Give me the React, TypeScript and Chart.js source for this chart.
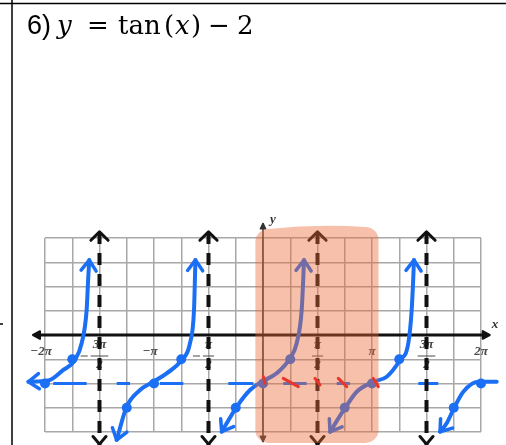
import { useEffect, useRef } from 'react';
import { Chart, registerables } from 'chart.js';

Chart.register(...registerables);

const WIDTH = 506;
const HEIGHT = 445;

type Pt = [number, number];

// Horizontal values are in multiples of π, vertical values in plain units.
const xGrid = [-2, -1.75, -1.5, -1.25, -1, -0.75, -0.5, -0.25, 0, 0.25, 0.5, 0.75, 1, 1.25, 1.5, 1.75, 2];
const yGrid = [-4, -3, -2, -1, 0, 1, 2, 3, 4];

const xTickLabels = [
  { value: -2, text: '−2π' },
  { value: -1.5, num: '3π', den: '2', negative: true },
  { value: -1, text: '−π' },
  { value: -0.5, num: 'π', den: '2', negative: true },
  { value: 0.5, num: 'π', den: '2' },
  { value: 1, text: 'π' },
  { value: 1.5, num: '3π', den: '2' },
  { value: 2, text: '2π' },
];

// Hand-sketched branches of y = tan(x) − 2
const branchA: Pt[] = [[-2.153, -1.93], [-1.97, -1.88], [-1.832, -1.44], [-1.725, -1.03], [-1.664, -0.34], [-1.618, 1.03], [-1.603, 2.4], [-1.594, 3.09]];
const branchB: Pt[] = [[-1.343, -4.33], [-1.251, -2.96], [-1.128, -2.27], [-1.006, -1.93], [-0.884, -1.58], [-0.746, -1.03], [-0.67, -0.34], [-0.633, 1.03], [-0.624, 2.4], [-0.62, 3.09]];
const branchC: Pt[] = [[-0.379, -3.99], [-0.241, -2.96], [-0.119, -2.27], [-0.012, -1.93], [0.125, -1.58], [0.248, -0.96], [0.309, -0.34], [0.355, 1.03], [0.37, 2.4], [0.376, 3.09]];
const branchD: Pt[] = [[0.615, -3.99], [0.752, -3.02], [0.86, -2.34], [1.012, -1.93], [1.135, -1.72], [1.257, -1.03], [1.333, -0.34], [1.364, 1.03], [1.379, 2.4], [1.385, 3.09]];
const branchE: Pt[] = [[1.624, -3.99], [1.685, -3.64], [1.752, -3.02], [1.838, -2.34], [1.975, -1.93], [2.144, -1.93]];

// Key points: (kπ, −2), (kπ ± π/4, −2 ± 1)
const keyPoints: Pt[] = [[-2, -2], [-1.75, -1], [-1.25, -3], [-1, -2], [-0.75, -1], [-0.25, -3], [0, -2], [0.25, -1], [0.75, -3], [1, -2], [1.25, -1], [1.75, -3], [2, -2]];

// Dashed midline y = −2, drawn as separate strokes
const MIDLINE = -2;
const midlineDashes: Pt[] = [[-1.924, -1.618], [-1.342, -1.22], [-0.945, -0.731], [-0.318, -0.089], [0.186, 0.401], [0.676, 0.798], [1.425, 1.608]];

// Red tick strokes across the midline within one period
const redMarks: Pt[][] = [
  [[0.003, -1.72], [0.018, -1.99]],
  [[0.186, -1.79], [0.324, -2.13]],
  [[0.477, -1.79], [0.523, -2.06]],
  [[0.691, -1.79], [0.768, -2.13]],
  [[1.012, -1.79], [1.058, -2.13]],
];

// Vertical asymptotes x = ±π/2, ±3π/2
const asymptoteXs = [-1.5, -0.5, 0.5, 1.5];
const ASYM_TOP = 4.25;
const ASYM_BOTTOM = -4.65;
const ASYM_ARROW_BOTTOM = -4.5;

const xAxisSpan: Pt = [-2.11, 2.08];
const yAxisSpan: Pt = [-4.4, 4.6];

// One highlighted period
const highlight = { x0: -0.07, x1: 1.06, y0: -4.45, y1: 4.5 };

const BLUE = '#1a6ff5';
const RED = '#e8362a';
const INK = '#111111';
const HIGHLIGHT = 'rgba(233,105,55,0.42)';

const toXY = (pts: Pt[]) => pts.map(([x, y]) => ({ x, y }));
const gapped = (segs: Pt[][]) =>
  segs.flatMap((s) => [...toXY(s), { x: s[s.length - 1][0], y: null as any }]);

const branches = [
  { label: 'branchA', points: branchA, start: true, end: true },
  { label: 'branchB', points: branchB, start: true, end: true },
  { label: 'branchC', points: branchC, start: true, end: true },
  { label: 'branchD', points: branchD, start: true, end: true },
  { label: 'branchE', points: branchE, start: true, end: false },
];

function arrowHead(
  ctx: CanvasRenderingContext2D,
  tipX: number, tipY: number, fromX: number, fromY: number,
  len: number, spread: number, color: string, width: number, filled = false
) {
  const ang = Math.atan2(tipY - fromY, tipX - fromX);
  const a1 = ang + Math.PI - spread;
  const a2 = ang + Math.PI + spread;
  ctx.save();
  ctx.strokeStyle = color;
  ctx.fillStyle = color;
  ctx.lineWidth = width;
  ctx.lineCap = 'round';
  ctx.lineJoin = 'round';
  ctx.beginPath();
  ctx.moveTo(tipX + len * Math.cos(a1), tipY + len * Math.sin(a1));
  ctx.lineTo(tipX, tipY);
  ctx.lineTo(tipX + len * Math.cos(a2), tipY + len * Math.sin(a2));
  if (filled) {
    ctx.closePath();
    ctx.fill();
  }
  ctx.stroke();
  ctx.restore();
}

const sketchPlugin = {
  id: 'sketch',
  beforeDraw(chart: any) {
    const { ctx } = chart;
    ctx.save();
    ctx.fillStyle = '#ffffff';
    ctx.fillRect(0, 0, chart.width, chart.height);
    // worksheet cell borders
    ctx.strokeStyle = '#000';
    ctx.lineWidth = 1.5;
    ctx.beginPath();
    ctx.moveTo(0, 3.5);
    ctx.lineTo(chart.width, 3.5);
    ctx.moveTo(12, 0);
    ctx.lineTo(12, chart.height);
    ctx.moveTo(0, 324);
    ctx.lineTo(3, 324);
    ctx.stroke();
    ctx.restore();
  },
  beforeDatasetsDraw(chart: any) {
    const { ctx } = chart;
    const xs = chart.scales.x;
    const ys = chart.scales.y;
    const y0 = ys.getPixelForValue(0);

    // tick labels
    ctx.save();
    ctx.fillStyle = '#4a4a4a';
    ctx.strokeStyle = '#4a4a4a';
    ctx.font = 'italic bold 13px "Liberation Serif"';
    ctx.textAlign = 'center';
    ctx.textBaseline = 'middle';
    for (const t of xTickLabels) {
      const px = xs.getPixelForValue(t.value);
      if (t.text) {
        const shift = t.text.startsWith('−') ? -4 : 0;
        ctx.fillText(t.text, px + shift, y0 + 17);
      } else {
        const w = Math.max(ctx.measureText(t.num!).width, ctx.measureText(t.den!).width) + 4;
        ctx.fillText(t.num!, px, y0 + 10);
        ctx.fillText(t.den!, px, y0 + 30);
        ctx.lineWidth = 1;
        ctx.beginPath();
        ctx.moveTo(px - w / 2, y0 + 21);
        ctx.lineTo(px + w / 2, y0 + 21);
        ctx.stroke();
        if (t.negative) {
          ctx.beginPath();
          ctx.moveTo(px - w / 2 - 10, y0 + 21);
          ctx.lineTo(px - w / 2 - 3, y0 + 21);
          ctx.stroke();
        }
      }
    }
    ctx.restore();

    // y axis
    const yx = xs.getPixelForValue(0);
    const yTop = ys.getPixelForValue(yAxisSpan[1]);
    const yBot = ys.getPixelForValue(yAxisSpan[0]);
    ctx.save();
    ctx.strokeStyle = '#333';
    ctx.lineWidth = 1.5;
    ctx.beginPath();
    ctx.moveTo(yx, yTop);
    ctx.lineTo(yx, yBot);
    ctx.stroke();
    ctx.restore();
    arrowHead(ctx, yx, yTop, yx, yTop + 10, 6, 0.45, '#333', 1.5, true);
    arrowHead(ctx, yx, yBot, yx, yBot - 10, 6, 0.45, '#333', 1.5, true);

    // x axis
    const xl = xs.getPixelForValue(xAxisSpan[0]);
    const xr = xs.getPixelForValue(xAxisSpan[1]);
    ctx.save();
    ctx.strokeStyle = INK;
    ctx.lineWidth = 3;
    ctx.beginPath();
    ctx.moveTo(xl + 2, y0);
    ctx.lineTo(xr - 2, y0);
    ctx.stroke();
    ctx.restore();
    arrowHead(ctx, xl, y0, xl + 10, y0, 8, 0.5, INK, 2, true);
    arrowHead(ctx, xr, y0, xr - 10, y0, 8, 0.5, INK, 2, true);

    ctx.save();
    ctx.fillStyle = '#333';
    ctx.font = 'italic bold 13px "Liberation Serif"';
    ctx.textAlign = 'left';
    ctx.textBaseline = 'middle';
    ctx.fillText('x', xr + 2, y0 - 10);
    ctx.fillText('y', yx + 7, yTop - 4);
    ctx.restore();
  },
  beforeDatasetDraw(chart: any, args: any) {
    const ds = chart.data.datasets[args.index];
    if (ds.label !== 'marks') return;
    const { ctx } = chart;
    const xs = chart.scales.x;
    const ys = chart.scales.y;
    const l = xs.getPixelForValue(highlight.x0);
    const r = xs.getPixelForValue(highlight.x1);
    const t = ys.getPixelForValue(highlight.y1);
    const b = ys.getPixelForValue(highlight.y0);
    const rad = 13;
    ctx.save();
    ctx.fillStyle = HIGHLIGHT;
    ctx.beginPath();
    ctx.moveTo(l + rad, t + 3);
    ctx.quadraticCurveTo((l + r) / 2, t - 2, r - rad, t + 1);
    ctx.arcTo(r, t + 1, r, t + rad, rad);
    ctx.lineTo(r, b - rad);
    ctx.arcTo(r, b, r - rad, b, rad);
    ctx.lineTo(l + rad, b);
    ctx.arcTo(l, b, l, b - rad, rad);
    ctx.lineTo(l, t + rad + 3);
    ctx.arcTo(l, t + 3, l + rad, t + 3, rad);
    ctx.closePath();
    ctx.fill();
    ctx.restore();
  },
  afterDatasetDraw(chart: any, args: any) {
    const ds = chart.data.datasets[args.index];
    const { ctx } = chart;
    const pts = args.meta.data;
    const br = branches.find((b) => b.label === ds.label);
    if (br) {
      const n = pts.length;
      if (br.start) arrowHead(ctx, pts[0].x, pts[0].y, pts[1].x, pts[1].y, 13, 0.62, BLUE, 3.5);
      if (br.end) arrowHead(ctx, pts[n - 1].x, pts[n - 1].y, pts[n - 2].x, pts[n - 2].y, 13, 0.62, BLUE, 3.5);
    }
    if (ds.label === 'asymptotes') {
      const xs = chart.scales.x;
      const ys = chart.scales.y;
      for (const x of asymptoteXs) {
        const px = xs.getPixelForValue(x);
        const top = ys.getPixelForValue(ASYM_TOP);
        const bot = ys.getPixelForValue(ASYM_ARROW_BOTTOM);
        arrowHead(ctx, px, top, px, top + 20, 12, 0.8, INK, 3);
        arrowHead(ctx, px, bot, px, bot - 20, 10, 0.7, INK, 3);
      }
    }
  },
  afterDraw(chart: any) {
    const { ctx } = chart;
    ctx.save();
    ctx.fillStyle = '#000';
    ctx.textBaseline = 'alphabetic';
    ctx.textAlign = 'left';
    const base = 34;
    const sans = '27px "Liberation Sans"';
    const serif = '26px "DejaVu Serif"';
    const italic = 'italic 26px "DejaVu Serif"';
    const pieces: [string, string, number][] = [
      ['6)', sans, 27],
      ['y', italic, 57],
      ['=', serif, 87],
      ['tan', serif, 118],
      ['(', serif, 164],
      ['x', italic, 175],
      [')', serif, 191],
      ['−', serif, 208],
      ['2', serif, 237],
    ];
    for (const [txt, font, x] of pieces) {
      ctx.font = font;
      ctx.fillText(txt, x, base);
    }
    ctx.restore();
  },
};

export default function App() {
  const ref = useRef<HTMLCanvasElement>(null);

  useEffect(() => {
    const curveStyle = {
      borderColor: BLUE,
      borderWidth: 4,
      borderCapStyle: 'round',
      borderJoinStyle: 'round',
      pointRadius: 0,
      cubicInterpolationMode: 'monotone',
      fill: false,
      clip: false,
      order: 4,
    };
    const chart = new Chart(ref.current!, {
      type: 'line',
      data: {
        datasets: [
          {
            label: 'midline',
            data: gapped(midlineDashes.map(([a, b]) => [[a, MIDLINE], [b, MIDLINE]] as Pt[])),
            borderColor: BLUE,
            borderWidth: 3,
            pointRadius: 0,
            spanGaps: false,
            clip: false,
            order: 6,
          },
          {
            label: 'asymptotes',
            data: gapped(asymptoteXs.map((x) => [[x, ASYM_TOP], [x, ASYM_BOTTOM]] as Pt[])),
            borderColor: INK,
            borderWidth: 4,
            borderDash: [12, 9],
            pointRadius: 0,
            spanGaps: false,
            clip: false,
            order: 5,
          },
          ...branches.map((b) => ({ label: b.label, data: toXY(b.points), ...curveStyle })),
          {
            label: 'keyPoints',
            data: toXY(keyPoints),
            showLine: false,
            pointRadius: 5,
            pointBackgroundColor: BLUE,
            pointBorderWidth: 0,
            clip: false,
            order: 3,
          },
          {
            label: 'marks',
            data: gapped(redMarks),
            borderColor: RED,
            borderWidth: 3,
            borderCapStyle: 'round',
            pointRadius: 0,
            spanGaps: false,
            clip: false,
            order: 0,
          },
        ] as any,
      },
      options: {
        responsive: false,
        maintainAspectRatio: false,
        animation: false,
        events: [],
        layout: { padding: { left: 45, right: 25, top: 238, bottom: 13 } },
        plugins: { legend: { display: false }, tooltip: { enabled: false }, title: { display: false } },
        scales: {
          x: {
            type: 'linear',
            min: -2,
            max: 2,
            afterBuildTicks: (s: any) => { s.ticks = xGrid.map((value) => ({ value })); },
            ticks: { display: false },
            grid: { color: '#a8a8a8', lineWidth: 1.5, drawTicks: false },
            border: { display: false },
          },
          y: {
            type: 'linear',
            min: -4,
            max: 4,
            afterBuildTicks: (s: any) => { s.ticks = yGrid.map((value) => ({ value })); },
            ticks: { display: false },
            grid: { color: '#a8a8a8', lineWidth: 1.5, drawTicks: false },
            border: { display: false },
          },
        },
      } as any,
      plugins: [sketchPlugin],
    });
    return () => chart.destroy();
  }, []);

  return (
    <div style={{ position: 'absolute', left: 0, top: 0, width: WIDTH, height: HEIGHT }}>
      <canvas ref={ref} width={WIDTH} height={HEIGHT} style={{ display: 'block' }} />
    </div>
  );
}
